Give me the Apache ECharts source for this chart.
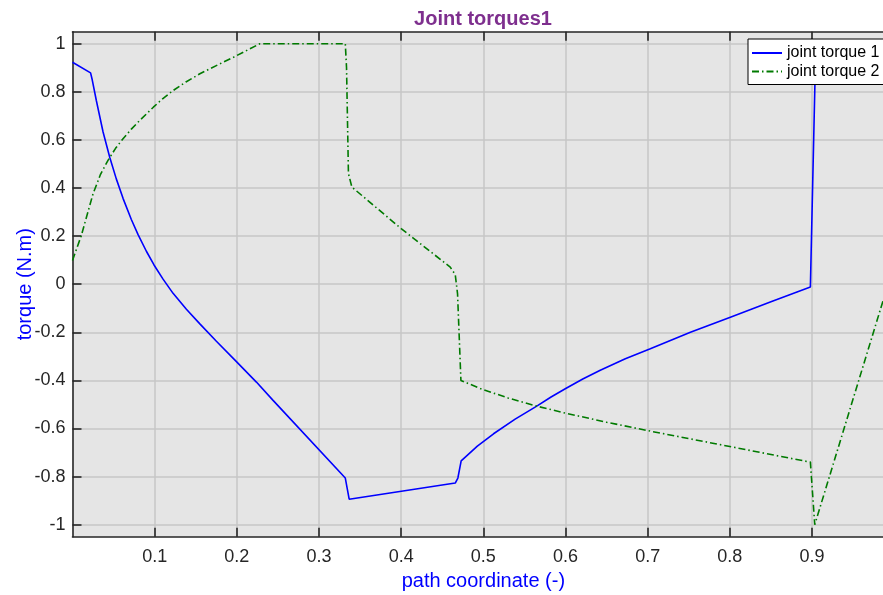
<!DOCTYPE html>
<html>
<head>
<meta charset="utf-8">
<script src="https://cdn.jsdelivr.net/npm/echarts@6/dist/echarts.min.js"></script>
<style>
  html, body { margin: 0; padding: 0; background: #ffffff; }
  #chart { width: 883px; height: 595px; }
</style>
</head>
<body>
<div id="chart"></div>
<script>
// Joint torque 1 along the path
const torque1Path = [0, 0.022, 0.024, 0.029, 0.0372, 0.0453, 0.0533, 0.0615, 0.0716, 0.0798,
  0.0899, 0.0992, 0.1102, 0.1224, 0.1386, 0.155, 0.1751, 0.1995, 0.2238, 0.2441,
  0.332, 0.3367, 0.4658, 0.469, 0.473, 0.4927, 0.5124, 0.5387, 0.565, 0.5824,
  0.5997, 0.621, 0.6423, 0.6728, 0.7032, 0.752, 0.8006, 0.85, 0.898, 0.9035, 0.9045];
const torque1Value = [0.923, 0.879, 0.85, 0.764, 0.633, 0.528, 0.438, 0.357, 0.269, 0.206,
  0.137, 0.080, 0.021, -0.038, -0.104, -0.165, -0.237, -0.322, -0.407, -0.483,
  -0.806, -0.894, -0.827, -0.806, -0.735, -0.673, -0.622, -0.561, -0.507, -0.469,
  -0.435, -0.394, -0.358, -0.310, -0.268, -0.200, -0.137, -0.073, -0.012, 0.83, 0.90];

// Joint torque 2 along the path
const torque2Path = [0, 0.0108, 0.025, 0.0341, 0.0432, 0.0524, 0.0615, 0.0716, 0.0818, 0.0984,
  0.110, 0.1227, 0.138, 0.155, 0.175, 0.196, 0.228, 0.332, 0.3335, 0.3358,
  0.34, 0.400, 0.4597, 0.4658, 0.4686, 0.4727, 0.4962, 0.53, 0.565, 0.5997,
  0.65, 0.7032, 0.80, 0.898, 0.9033, 0.9866, 1.0];
const torque2Value = [0.099, 0.203, 0.376, 0.457, 0.515, 0.565, 0.605, 0.645, 0.681, 0.736,
  0.772, 0.806, 0.841, 0.875, 0.909, 0.944, 1.0, 1.0, 0.9, 0.46,
  0.404, 0.231, 0.071, 0.040, -0.04, -0.40, -0.434, -0.473, -0.507, -0.536,
  -0.574, -0.611, -0.675, -0.74, -1.0, -0.067, 0.09];

// Tick positions
const xTicks = [0.1, 0.2, 0.3, 0.4, 0.5, 0.6, 0.7, 0.8, 0.9];
const xGrid = [0.1, 0.2, 0.3, 0.4, 0.5, 0.6, 0.7, 0.8, 0.9, 1.0];
const yTicks = [-1, -0.8, -0.6, -0.4, -0.2, 0, 0.2, 0.4, 0.6, 0.8, 1];

const zip = (xs, ys) => xs.map((x, i) => [x, ys[i]]);

const FONT = '"Liberation Sans", Arial, Helvetica, sans-serif';
const AXIS_COLOR = '#262626';
const GRID_COLOR = '#c6c6c6';
const fmt = v => String(+(+v).toFixed(2));

const chart = echarts.init(document.getElementById('chart'), null, { renderer: 'canvas' });

chart.setOption({
  animation: false,
  backgroundColor: '#ffffff',
  textStyle: { fontFamily: FONT },
  title: {
    text: 'Joint torques1',
    left: 483,
    top: 9,
    padding: 0,
    textAlign: 'center',
    textStyle: { fontFamily: FONT, fontSize: 20, fontWeight: 'bold', color: '#7e2f8e' }
  },
  legend: {
    orient: 'vertical',
    left: 748,
    top: 39,
    padding: [5, 4, 4, 3],
    itemWidth: 30,
    itemHeight: 14,
    itemGap: 0.5,
    backgroundColor: '#ffffff',
    borderColor: '#000000',
    borderWidth: 1,
    borderRadius: 0,
    itemStyle: { opacity: 0 },
    textStyle: { fontFamily: FONT, fontSize: 16, color: '#000000', lineHeight: 18 },
    data: ['joint torque 1', 'joint torque 2']
  },
  grid: {
    left: 72.5,
    top: 31.7,
    right: -11.2,
    bottom: 58.3,
    show: true,
    backgroundColor: '#e5e5e5',
    borderWidth: 0,
    containLabel: false,
    outerBoundsMode: 'none'
  },
  xAxis: [{
    type: 'value',
    position: 'bottom',
    min: 0,
    max: 1,
    interval: 0.1,
    name: 'path coordinate (-)',
    nameLocation: 'middle',
    nameGap: 35,
    nameMoveOverlap: false,
    nameTextStyle: { fontFamily: FONT, fontSize: 20, color: '#0000ff' },
    axisLine: { show: true, onZero: false, lineStyle: { color: AXIS_COLOR, width: 1.6 } },
    axisTick: { show: true, inside: true, length: 9, customValues: xTicks, lineStyle: { color: AXIS_COLOR, width: 1.6 } },
    axisLabel: { show: true, margin: 11, customValues: xTicks, formatter: fmt,
      fontFamily: FONT, fontSize: 18, color: AXIS_COLOR },
    splitLine: { show: true, customValues: xGrid, lineStyle: { color: GRID_COLOR, width: 1.5 } }
  }, {
    type: 'value',
    position: 'top',
    min: 0,
    max: 1,
    interval: 0.1,
    axisLine: { show: true, onZero: false, lineStyle: { color: AXIS_COLOR, width: 1.6 } },
    axisTick: { show: true, inside: true, length: 9, customValues: xTicks, lineStyle: { color: AXIS_COLOR, width: 1.6 } },
    axisLabel: { show: false },
    splitLine: { show: false }
  }],
  yAxis: [{
    type: 'value',
    position: 'left',
    min: -1.05,
    max: 1.05,
    name: 'torque (N.m)',
    nameLocation: 'middle',
    nameGap: 37,
    nameRotate: 90,
    nameMoveOverlap: false,
    nameTextStyle: { fontFamily: FONT, fontSize: 20, color: '#0000ff' },
    axisLine: { show: true, onZero: false, lineStyle: { color: AXIS_COLOR, width: 1.6 } },
    axisTick: { show: true, inside: true, length: 9, customValues: yTicks, lineStyle: { color: AXIS_COLOR, width: 1.6 } },
    axisLabel: { show: true, margin: 7, customValues: yTicks, formatter: fmt,
      fontFamily: FONT, fontSize: 18, color: AXIS_COLOR },
    splitLine: { show: true, customValues: yTicks, lineStyle: { color: GRID_COLOR, width: 1.5 } }
  }],
  series: [{
    name: 'joint torque 1',
    type: 'line',
    xAxisIndex: 0,
    yAxisIndex: 0,
    data: zip(torque1Path, torque1Value),
    showSymbol: false,
    symbol: 'none',
    smooth: false,
    clip: true,
    lineStyle: { color: '#0000ff', width: 1.6 },
    itemStyle: { color: '#0000ff' }
  }, {
    name: 'joint torque 2',
    type: 'line',
    xAxisIndex: 0,
    yAxisIndex: 0,
    data: zip(torque2Path, torque2Value),
    showSymbol: false,
    symbol: 'none',
    smooth: false,
    clip: true,
    lineStyle: { color: '#007a00', width: 1.6, type: [7, 3, 1.5, 3] },
    itemStyle: { color: '#007a00' }
  }]
});
</script>
</body>
</html>
